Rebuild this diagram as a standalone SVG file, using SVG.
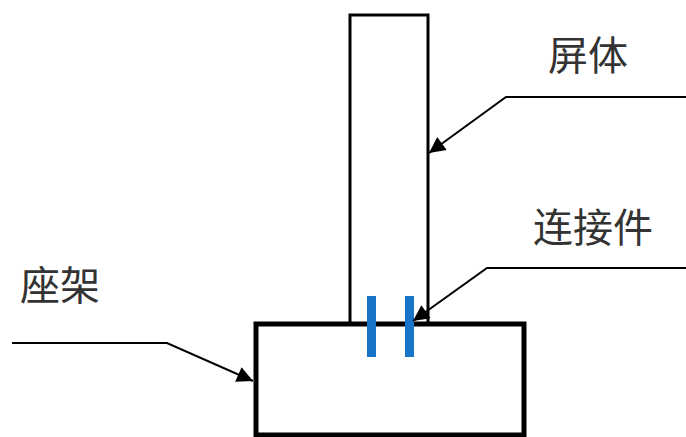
<svg xmlns="http://www.w3.org/2000/svg" width="686" height="437" viewBox="0 0 686 437">
<style>
.lbl{font-family:"Noto Sans CJK SC","Noto Sans",sans-serif;font-size:40px;fill:#333}
.ln{fill:none;stroke:#000;stroke-width:2}
</style>
<defs>
<marker id="ah" viewBox="0 0 10 10" refX="10" refY="5" markerWidth="10" markerHeight="8" markerUnits="userSpaceOnUse" orient="auto">
<path d="M0,0 L10,5 L0,10 Z" fill="#000"/>
</marker>
<marker id="ahb" viewBox="0 0 10 10" refX="10" refY="5" markerWidth="22" markerHeight="16" markerUnits="userSpaceOnUse" orient="auto">
<path d="M0,0 L10,5 L0,10 Z" fill="#000"/>
</marker>
</defs>
<rect width="686" height="437" fill="#fff"/>
<g id="screen">
<rect x="350" y="15" width="78" height="310" fill="#fff" stroke="#000" stroke-width="3"/>
</g>
<g id="base">
<rect x="256" y="324" width="268" height="111" fill="#fff" stroke="#000" stroke-width="5"/>
</g>
<g id="connector">
<rect x="367" y="296" width="9" height="61" fill="#1874c8"/>
<rect x="405" y="296" width="9" height="61" fill="#1874c8"/>
</g>
<g id="labels">
<text class="lbl" x="548" y="70">屏体</text>
<text class="lbl" x="533" y="242">连接件</text>
<text class="lbl" x="20" y="300">座架</text>
</g>
<g id="connectors">
<polyline class="ln" points="686,97 506,97 429,153" marker-end="url(#ahb)"/>
<polyline class="ln" points="686,268 487,268 413,321" marker-end="url(#ahb)"/>
<polyline class="ln" points="12,343 167,343 253,381" marker-end="url(#ahb)"/>
</g>
</svg>
